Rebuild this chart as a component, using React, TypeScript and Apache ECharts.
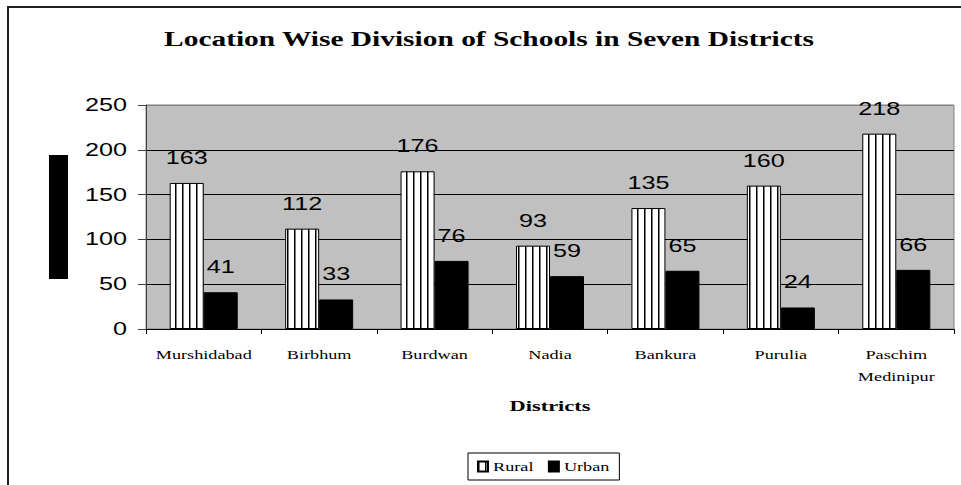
import React, { useEffect, useRef } from "react";
import * as echarts from "echarts";

const districts = ["Murshidabad", "Birbhum", "Burdwan", "Nadia", "Bankura", "Purulia", "Paschim\nMedinipur"];
const rural = [163, 112, 176, 93, 135, 160, 218];
const urban = [41, 33, 76, 59, 65, 24, 66];
const yTicks = { min: 0, max: 250, interval: 50 };
const titleText = "Location Wise Division of Schools in Seven Districts";
const xAxisTitle = "Districts";
const seriesNames = ["Rural", "Urban"];

function makeStripe(): HTMLCanvasElement {
  const c = document.createElement("canvas");
  c.width = 7;
  c.height = 4;
  const ctx = c.getContext("2d")!;
  ctx.fillStyle = "#ffffff";
  ctx.fillRect(0, 0, 7, 4);
  ctx.fillStyle = "#000000";
  ctx.fillRect(0, 0, 1.5, 4);
  return c;
}

export default function App() {
  const ref = useRef<HTMLDivElement>(null);
  useEffect(() => {
    const chart = echarts.init(ref.current!, null, { renderer: "svg" });
    const stripe = makeStripe();
    const serif = "'Liberation Serif', 'Times New Roman', serif";
    const sans = "'Liberation Sans', Arial, sans-serif";
    const labelStyle = {
      show: true,
      position: "top" as const,
      distance: 16,
      fontFamily: sans,
      fontSize: 18,
      color: "#000",
    };
    chart.setOption({
      animation: false,
      backgroundColor: "#fff",
      title: {
        text: titleText,
        left: 484,
        textAlign: "center",
        top: 23,
        textStyle: { fontFamily: serif, fontWeight: "bold", fontSize: 21, color: "#000" },
      },
      legend: {
        data: seriesNames,
        left: 468,
        top: 453,
        icon: "rect",
        itemWidth: 10,
        itemHeight: 10,
        itemGap: 26,
        padding: [7, 23, 7, 9],
        borderColor: "#000",
        borderWidth: 1,
        textStyle: { fontFamily: serif, fontSize: 13, color: "#000" },
      },
      grid: {
        left: 146,
        right: 7,
        top: 105,
        bottom: 156,
        show: true,
        backgroundColor: "#c0c0c0",
        borderColor: "#808080",
        borderWidth: 1,
      },
      xAxis: {
        type: "category",
        data: districts,
        name: xAxisTitle,
        nameLocation: "middle",
        nameGap: 70,
        nameTextStyle: { fontFamily: serif, fontWeight: "bold", fontSize: 14, color: "#000" },
        axisLine: { lineStyle: { color: "#000", width: 1 } },
        axisTick: { show: true, length: 5, lineStyle: { color: "#000" } },
        axisLabel: {
          interval: 0,
          margin: 14,
          fontFamily: serif,
          fontSize: 13,
          lineHeight: 22,
          color: "#000",
        },
      },
      yAxis: {
        type: "value",
        min: yTicks.min,
        max: yTicks.max,
        interval: yTicks.interval,
        axisLine: { show: true, lineStyle: { color: "#404040", width: 1 } },
        axisTick: { show: true, length: 8, lineStyle: { color: "#404040" } },
        axisLabel: { margin: 19, fontFamily: sans, fontSize: 18, color: "#000" },
        splitLine: {
          show: true,
          lineStyle: { color: ["#000", "#000", "#000", "#000", "#000", "#808080"], width: 1 },
        },
      },
      series: [
        {
          name: seriesNames[0],
          type: "bar",
          data: rural,
          barWidth: 34,
          barGap: "0%",
          itemStyle: { color: { image: stripe, repeat: "repeat" }, borderColor: "#000", borderWidth: 1 },
          label: labelStyle,
        },
        {
          name: seriesNames[1],
          type: "bar",
          data: urban,
          barWidth: 34,
          barGap: "0%",
          itemStyle: { color: "#000", borderColor: "#000", borderWidth: 1 },
          label: labelStyle,
        },
      ],
      graphic: [
        {
          type: "rect",
          shape: { x: 8, y: 7, width: 1100, height: 600 },
          style: { fill: "none", stroke: "#222", lineWidth: 2 },
          silent: true,
        },
        {
          type: "rect",
          shape: { x: 49, y: 155, width: 19, height: 124 },
          style: { fill: "#000" },
          silent: true,
        },
      ],
    });

    // The reference's lettering is horizontally stretched; widen each text run.
    const stretch = () => {
      const root = ref.current;
      if (!root) return;
      root.querySelectorAll("svg text").forEach((node) => {
        const t = node as SVGTextElement;
        if (t.getAttribute("data-st")) return;
        const len = t.getComputedTextLength();
        if (!len) return;
        const txt = t.textContent || "";
        const f = txt === xAxisTitle ? 1.6 : 1.4;
        t.setAttribute("textLength", String(len * f));
        t.setAttribute("lengthAdjust", "spacingAndGlyphs");
        t.setAttribute("data-st", "1");
      });
    };
    stretch();
    chart.on("finished", stretch);
    return () => chart.dispose();
  }, []);
  return (
    <div
      ref={ref}
      style={{ position: "absolute", left: 0, top: 0, width: 961, height: 485 }}
    />
  );
}
